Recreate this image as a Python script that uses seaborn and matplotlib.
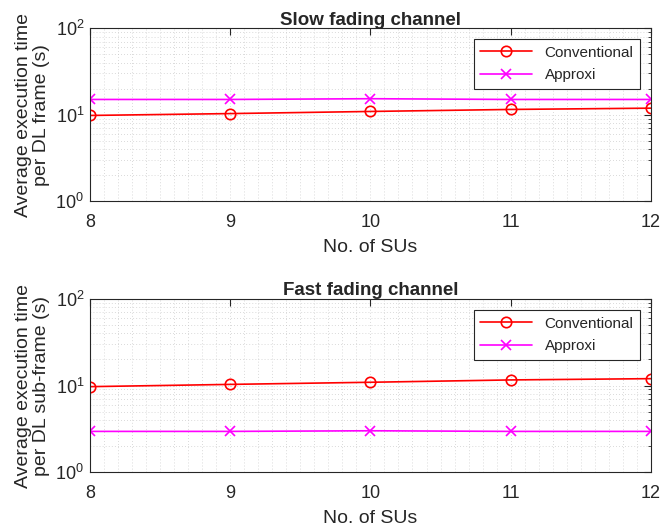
import numpy as np
import pandas as pd
import matplotlib
matplotlib.use("Agg")
import matplotlib.pyplot as plt
import seaborn as sns
from matplotlib.ticker import LogLocator, NullFormatter, MultipleLocator

num_sus = [8, 9, 10, 11, 12]
slow_conventional = [9.8, 10.3, 10.9, 11.5, 11.9]
slow_approxi = [15.0, 15.0, 15.3, 15.0, 15.0]
fast_conventional = [9.7, 10.3, 10.9, 11.6, 12.0]
fast_approxi = [2.95, 2.95, 3.0, 2.95, 2.95]

titles = ["Slow fading channel", "Fast fading channel"]
ylabels = ["Average execution time\nper DL frame (s)",
           "Average execution time\nper DL sub-frame (s)"]
xlabel = "No. of SUs"
series_names = ["Conventional", "Approxi"]
colors = ["#ff0000", "#ff00ff"]
markers = ["o", "x"]

sns.set_style("white")
plt.rcParams['font.family'] = ['Liberation Sans', 'DejaVu Sans']
plt.rcParams['mathtext.fontset'] = 'custom'
plt.rcParams['mathtext.rm'] = 'Liberation Sans'

fig = plt.figure(figsize=(6.65, 5.31), dpi=100)
positions = [[0.135, 0.621, 0.844, 0.326], [0.135, 0.111, 0.844, 0.326]]
data = [(slow_conventional, slow_approxi), (fast_conventional, fast_approxi)]
grid_ls = (0, (1, 3))

for i in range(2):
    ax = fig.add_axes(positions[i])
    for vals, name, col, mk in zip(data[i], series_names, colors, markers):
        df = pd.DataFrame({"SUs": num_sus, "time": vals})
        kw = dict(markerfacecolor="none") if mk == "o" else {}
        sns.lineplot(data=df, x="SUs", y="time", ax=ax, color=col, marker=mk,
                     markersize=7.5, markeredgewidth=1.2, markeredgecolor=col,
                     linewidth=1.2, label=name, **kw)
    ax.set_yscale("log")
    ax.set_ylim(1, 100)
    ax.set_xlim(8, 12)
    ax.set_xticks(num_sus)
    ax.yaxis.set_major_locator(LogLocator(base=10, numticks=5))
    ax.yaxis.set_minor_locator(LogLocator(base=10, subs=np.arange(2, 10), numticks=20))
    ax.yaxis.set_minor_formatter(NullFormatter())
    ax.xaxis.set_minor_locator(MultipleLocator(0.1))
    ax.grid(True, which="both", linestyle=grid_ls, color="#c4c4c4", linewidth=0.55)
    ax.tick_params(which="both", direction="in", top=True, right=True,
                   labelsize=13, colors="#262626")
    ax.tick_params(which="major", length=5)
    ax.tick_params(axis="x", which="major", pad=9)
    ax.tick_params(axis="y", which="major", pad=4)
    ax.tick_params(axis="x", which="minor", length=0)
    ax.tick_params(axis="y", which="minor", length=2.5)
    for sp in ax.spines.values():
        sp.set_color("#262626")
        sp.set_linewidth(0.8)
    ax.set_title(titles[i], fontsize=13.5, fontweight="bold", pad=2.5)
    ax.set_xlabel(xlabel, fontsize=14, labelpad=6)
    ax.set_ylabel(ylabels[i], fontsize=14, labelpad=4, linespacing=1.1)
    leg = ax.legend(loc="upper right", fontsize=11, frameon=True, fancybox=False,
                    edgecolor="#262626", framealpha=1, handlelength=3.4,
                    borderaxespad=0.7, labelspacing=0.55, borderpad=0.45)
    leg.get_frame().set_linewidth(0.8)

fig.savefig("out.png", dpi=100)
